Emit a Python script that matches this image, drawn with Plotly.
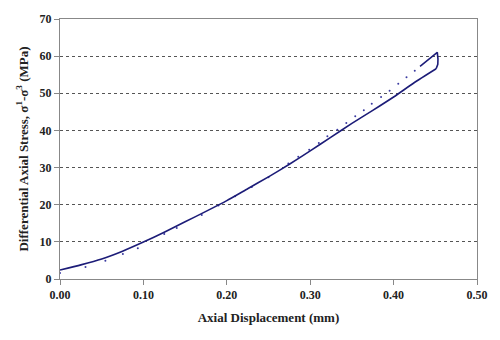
import plotly.graph_objects as go

# Fitted curve (solid line) - loading branch
line_x = [0.000, 0.025, 0.050, 0.075, 0.100, 0.125, 0.150, 0.175, 0.200, 0.225,
          0.250, 0.275, 0.300, 0.325, 0.350, 0.375, 0.400, 0.425, 0.451]
line_y = [2.4, 3.8, 5.4, 7.5, 9.95, 12.6, 15.4, 18.2, 21.1, 24.3,
          27.5, 30.9, 34.5, 38.2, 41.9, 45.4, 49.0, 52.9, 56.6]

# Hook at the end of the curve
hook_x = [0.451, 0.4530, 0.4532, 0.4524, 0.4317]
hook_y = [56.6, 57.8, 59.2, 61.0, 57.25]

# Measured data (dots)
dot_x = [0.0, 0.0306, 0.0544, 0.0754, 0.0933, 0.125, 0.140, 0.17, 0.19, 0.21,
         0.23, 0.25, 0.2738, 0.2857, 0.2988, 0.3103, 0.3206, 0.3325, 0.3433,
         0.354, 0.3643, 0.3738, 0.385, 0.3952, 0.4056, 0.4155, 0.4254]
dot_y = [1.6, 3.2, 4.9, 6.7, 8.3, 12.1, 13.7, 17.2, 19.8, 22.3,
         24.8, 27.4, 31.1, 32.9, 34.8, 36.6, 38.4, 40.2, 42.0,
         43.8, 45.4, 47.2, 49.0, 50.7, 52.6, 54.3, 56.1]

x_ticks = [0.0, 0.1, 0.2, 0.3, 0.4, 0.5]
x_tick_labels = ["0.00", "0.10", "0.20", "0.30", "0.40", "0.50"]
y_ticks = [0, 10, 20, 30, 40, 50, 60, 70]

line_color = "#1c1c78"

fig = go.Figure()
fig.add_trace(go.Scatter(x=dot_x, y=dot_y, mode="markers",
                         marker=dict(size=2, color="#3a3aa0"),
                         showlegend=False, cliponaxis=False))
fig.add_trace(go.Scatter(x=line_x, y=line_y, mode="lines",
                         line=dict(color=line_color, width=1.6, shape="spline", smoothing=0.5),
                         showlegend=False))
fig.add_trace(go.Scatter(x=hook_x, y=hook_y, mode="lines",
                         line=dict(color=line_color, width=1.6),
                         showlegend=False))

tickfont = dict(family="Liberation Serif", size=12, color="#222222", weight="bold")
titlefont = dict(family="Liberation Serif", size=13, color="#222222")

fig.update_layout(
    width=500, height=340,
    margin=dict(l=60, r=21, t=19, b=61),
    paper_bgcolor="white", plot_bgcolor="white",
    xaxis=dict(
        range=[0, 0.5], tickvals=x_ticks, ticktext=x_tick_labels,
        showgrid=False, zeroline=False,
        showline=True, linecolor="#888888", linewidth=1, mirror=True,
        ticks="outside", ticklen=5, tickcolor="#888888",
        tickfont=tickfont,
        title=dict(text="<b>Axial Displacement (mm)</b>", standoff=11, font=titlefont),
    ),
    yaxis=dict(
        range=[0, 70], tickvals=y_ticks,
        showgrid=True, gridcolor="#555555", griddash="dot", gridwidth=1,
        zeroline=False,
        showline=True, linecolor="#888888", linewidth=1, mirror=True,
        ticks="outside", ticklen=5, tickcolor="#888888",
        tickfont=tickfont,
        title=dict(text="<b>Differential Axial Stress, σ<sup>1</sup>-σ<sup>3</sup> (MPa)</b>",
                   standoff=8, font=titlefont),
    ),
)

fig.write_html("out.html")
